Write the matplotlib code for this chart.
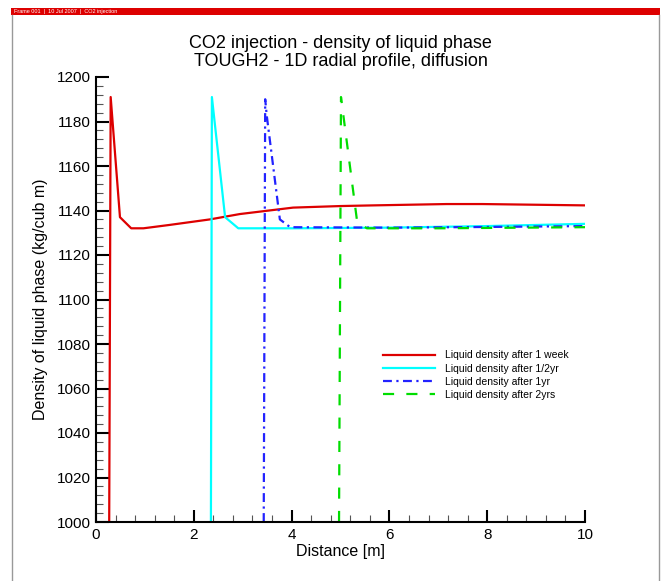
import matplotlib
matplotlib.use('Agg')

import matplotlib.pyplot as plt
from matplotlib.patches import Rectangle
from matplotlib.lines import Line2D
from matplotlib.ticker import MultipleLocator

plt.rcParams['font.family'] = ['Liberation Sans', 'DejaVu Sans']

# liquid density profiles
week_x = [0.27, 0.30, 0.49, 0.72, 0.97, 1.5, 2.33, 2.94, 4.03, 5.0, 5.67, 7.17, 7.9, 10.0]
week_y = [1000, 1191, 1137, 1132, 1132, 1133.5, 1136, 1138.4, 1141.3, 1142, 1142.3, 1142.9, 1142.9, 1142.3]

half_x = [2.35, 2.37, 2.64, 2.91, 4.0, 6.0, 8.0, 10.0]
half_y = [1000, 1191, 1137, 1132, 1132, 1132.3, 1133, 1134]

one_x = [3.43, 3.46, 3.49, 3.76, 3.97, 6.0, 8.0, 10.0]
one_y = [1000, 1190, 1183, 1136, 1132.5, 1132.3, 1132.6, 1133]

two_x = [4.97, 5.01, 5.34, 5.54, 7.0, 10.0]
two_y = [1000, 1191, 1135, 1132, 1132, 1132.5]

labels = ['Liquid density after 1 week', 'Liquid density after 1/2yr',
          'Liquid density after 1yr', 'Liquid density after 2yrs']

W, H = 663, 581
fig = plt.figure(figsize=(W / 100, H / 100), dpi=100)

# tecplot style frame with red header bar
fig.add_artist(Rectangle((11 / W, 1 - 15 / H), 649 / W, 7 / H, transform=fig.transFigure,
                         facecolor='#dd0000', edgecolor='none'))
fig.add_artist(Line2D([12 / W, 12 / W], [0, 1 - 15 / H], transform=fig.transFigure,
                      color='#999999', lw=1))
fig.add_artist(Line2D([659 / W, 659 / W], [0, 1 - 15 / H], transform=fig.transFigure,
                      color='#999999', lw=1))
fig.text(14 / W, 1 - 11.5 / H, 'Frame 001  |  10 Jul 2007  |  CO2 injection', color='white',
         fontsize=4, va='center', ha='left')

ax = fig.add_axes([96 / W, 1 - 522 / H, (585 - 96) / W, (522 - 77) / H])

ax.plot(week_x, week_y, color='#dd0000', lw=1.6, label=labels[0])
ax.plot(half_x, half_y, color='#00ffff', lw=1.6, label=labels[1])
ax.plot(one_x, one_y, color='#2222ff', lw=1.6, dashes=(4, 2, 1, 2), label=labels[2])
ax.plot(two_x, two_y, color='#00dd00', lw=1.6, dashes=(5, 5.5), label=labels[3])

ax.set_xlim(0, 10)
ax.set_ylim(1000, 1200)
ax.xaxis.set_major_locator(MultipleLocator(2))
ax.xaxis.set_minor_locator(MultipleLocator(0.4))
ax.yaxis.set_major_locator(MultipleLocator(20))
ax.yaxis.set_minor_locator(MultipleLocator(4))

ax.spines['top'].set_visible(False)
ax.spines['right'].set_visible(False)
ax.spines['left'].set_linewidth(1.5)
ax.spines['bottom'].set_linewidth(1.5)
ax.tick_params(which='major', direction='in', length=9, width=1.5, labelsize=11, pad=4)
ax.tick_params(which='minor', direction='in', length=5, width=0.8, color='#555555')

ax.set_xlabel('Distance [m]', fontsize=11.5, labelpad=2)
ax.set_ylabel('Density of liquid phase (kg/cub m)', fontsize=11.5, labelpad=6)
ax.set_title('CO2 injection - density of liquid phase\nTOUGH2 - 1D radial profile, diffusion',
             fontsize=13, linespacing=1.1, pad=8)

ax.legend(loc='upper left', bbox_to_anchor=(0.578, 0.395), frameon=False, fontsize=7.5,
          handlelength=5, labelspacing=0.3, handletextpad=1.0, borderaxespad=0)

fig.savefig('out.png', dpi=100)
